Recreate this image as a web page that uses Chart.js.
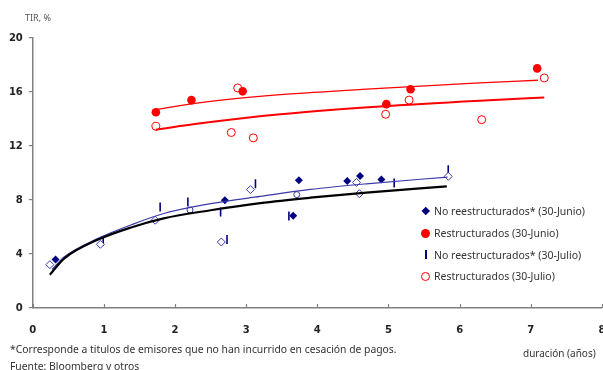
<!DOCTYPE html>
<html>
<head>
<meta charset="utf-8">
<script src="https://cdn.jsdelivr.net/npm/chart.js@4/dist/chart.umd.min.js"></script>
<style>
  body { margin: 0; background: #fff; }
  #wrap { position: relative; width: 603px; height: 370px; overflow: hidden; font-family: "Noto Sans", sans-serif; }
  #chart { position: absolute; left: 0; top: 0; }
  .txt { position: absolute; white-space: nowrap; color: #333; }
  #legend { position: absolute; left: 421px; top: 200.5px; font-size: 10.5px; color: #333; }
  #legend .item { height: 21.7px; line-height: 16px; display: flex; align-items: center; }
  #legend .mk { width: 10px; height: 16px; position: relative; margin-right: 3px; }
  #legend .mk span { position: absolute; }
</style>
</head>
<body>
<div id="wrap">
  <canvas id="chart" width="608" height="370"></canvas>
  <div class="txt" style="left:25px; top:11px; font-size:9px; color:#555;">TIR, %</div>
  <div class="txt" style="left:10px; top:341.5px; font-size:10.35px;">*Corresponde a titulos de emisores que no han incurrido en cesación de pagos.</div>
  <div class="txt" style="left:10px; top:359px; font-size:10.35px;">Fuente: Bloomberg y otros</div>
  <div class="txt" style="left:523px; top:346px; font-size:10px;">duración (años)</div>
  <div id="legend"></div>
</div>
<script>
// Axis ticks
const xTicks = [0, 1, 2, 3, 4, 5, 6, 7, 8];
const yTicks = [0, 4, 8, 12, 16, 20];

// No reestructurados* (30-Junio)
const juneNoRestrX = [0.32, 2.70, 3.66, 3.74, 4.42, 4.60, 4.90];
const juneNoRestrY = [3.60, 7.98, 6.84, 9.46, 9.41, 9.78, 9.51];

// Restructurados (30-Junio)
const juneRestrX = [1.73, 2.23, 2.95, 4.97, 5.31, 7.09];
const juneRestrY = [14.50, 15.40, 16.05, 15.10, 16.20, 17.75];

// No reestructurados* (30-Julio)
const julyNoRestrX = [0.99, 1.79, 2.18, 2.64, 2.73, 3.13, 3.60, 5.08, 5.84];
const julyNoRestrY = [4.95, 7.48, 7.85, 7.11, 5.07, 9.21, 6.81, 9.26, 10.25];

// Restructurados (30-Julio)
const julyRestrX = [1.73, 2.79, 2.88, 3.10, 4.96, 5.29, 6.31, 7.19];
const julyRestrY = [13.46, 13.00, 16.30, 12.60, 14.35, 15.40, 13.95, 17.04];

// unlabelled blue markers
const openDiamondX = [0.24, 0.95, 1.72, 2.65, 3.06, 4.55, 4.59, 5.84];
const openDiamondY = [3.21, 4.72, 6.50, 4.89, 8.77, 9.30, 8.47, 9.75];
const openDotX = [2.21, 3.71];
const openDotY = [7.26, 8.40];

// trend curves
const juneRestrTrendX = [1.73, 2.36, 3.48, 4.88, 6.28, 7.10];
const juneRestrTrendY = [14.70, 15.22, 15.80, 16.27, 16.67, 16.87];
const julyRestrTrendX = [1.73, 2.36, 3.48, 4.88, 6.28, 7.19];
const julyRestrTrendY = [13.21, 13.68, 14.35, 14.93, 15.36, 15.59];
const julyNoRestrTrendX = [0.24, 0.44, 0.91, 1.37, 1.84, 2.50, 3.20, 3.90, 4.69, 5.82];
const julyNoRestrTrendY = [2.47, 3.66, 5.05, 5.95, 6.64, 7.24, 7.77, 8.17, 8.55, 9.01];
const juneNoRestrTrendX = [0.27, 0.44, 0.91, 1.37, 1.84, 2.50, 3.20, 3.90, 4.69, 5.83];
const juneNoRestrTrendY = [2.85, 3.78, 5.14, 6.13, 7.00, 7.73, 8.27, 8.78, 9.20, 9.70];

const NAVY = '#000080';
const BLUE = '#3a3aa8';
const RED = '#ff0000';

function pts(xs, ys) {
    return xs.map((x, i) => ({ x: x, y: ys[i] }));
}

function trend(xs, ys, color, width) {
    return {
        type: 'line',
        data: pts(xs, ys),
        borderColor: color,
        borderWidth: width,
        pointRadius: 0,
        cubicInterpolationMode: 'monotone',
        fill: false,
        legend: false
    };
}

const datasets = [
    trend(julyRestrTrendX, julyRestrTrendY, RED, 2),
    trend(juneRestrTrendX, juneRestrTrendY, RED, 1.3),
    trend(julyNoRestrTrendX, julyNoRestrTrendY, '#000', 2.2),
    trend(juneNoRestrTrendX, juneNoRestrTrendY, BLUE, 1.2),
    {
        data: pts(openDiamondX, openDiamondY),
        pointStyle: 'rectRot', pointRadius: 4, pointBorderWidth: 1,
        pointBorderColor: BLUE, pointBackgroundColor: '#fff', legend: false
    },
    {
        data: pts(openDotX, openDotY),
        pointStyle: 'circle', pointRadius: 3, pointBorderWidth: 1,
        pointBorderColor: BLUE, pointBackgroundColor: '#fff', legend: false
    },
    {
        label: 'No reestructurados* (30-Junio)',
        data: pts(juneNoRestrX, juneNoRestrY),
        pointStyle: 'rectRot', pointRadius: 4, pointBorderWidth: 0,
        pointBorderColor: NAVY, pointBackgroundColor: NAVY, legend: 'diamond'
    },
    {
        label: 'Restructurados (30-Junio)',
        data: pts(juneRestrX, juneRestrY),
        pointStyle: 'circle', pointRadius: 4.3, pointBorderWidth: 0,
        pointBorderColor: RED, pointBackgroundColor: RED, legend: 'dot'
    },
    {
        label: 'No reestructurados* (30-Julio)',
        data: pts(julyNoRestrX, julyNoRestrY),
        pointStyle: 'line', rotation: 90, pointRadius: 4.5, pointBorderWidth: 1.6,
        pointBorderColor: NAVY, pointBackgroundColor: NAVY, legend: 'bar'
    },
    {
        label: 'Restructurados (30-Julio)',
        data: pts(julyRestrX, julyRestrY),
        pointStyle: 'circle', pointRadius: 4, pointBorderWidth: 1,
        pointBorderColor: RED, pointBackgroundColor: '#fff', legend: 'ring'
    }
];

// small inward tick marks on the x axis
const innerTicks = {
    id: 'innerTicks',
    afterDraw(chart) {
        const ctx = chart.ctx;
        const xs = chart.scales.x;
        ctx.save();
        ctx.strokeStyle = '#808080';
        ctx.lineWidth = 1.2;
        xTicks.forEach(v => {
            const px = Math.round(xs.getPixelForValue(v)) + 0.5;
            ctx.beginPath();
            ctx.moveTo(px, xs.top);
            ctx.lineTo(px, xs.top - 4);
            ctx.stroke();
        });
        ctx.restore();
    }
};

const tickFont = { family: '"DejaVu Sans", sans-serif', size: 10, weight: 'bold' };

const chart = new Chart(document.getElementById('chart'), {
    type: 'scatter',
    data: { datasets: datasets },
    options: {
        responsive: false,
        animation: false,
        devicePixelRatio: 1,
        layout: { padding: { top: 38, right: 0, bottom: 0, left: 0.8 } },
        plugins: { legend: { display: false }, tooltip: { enabled: false } },
        scales: {
            x: {
                type: 'linear', min: 0, max: 8,
                afterBuildTicks: s => { s.ticks = xTicks.map(v => ({ value: v })); },
                afterFit: s => { s.height = 62; s.paddingLeft = 0; s.paddingRight = 0; },
                grid: { drawOnChartArea: false, drawTicks: false },
                border: { color: '#808080', width: 1.5 },
                ticks: { font: tickFont, color: '#222', padding: 16, maxRotation: 0 }
            },
            y: {
                type: 'linear', min: 0, max: 20,
                afterBuildTicks: s => { s.ticks = yTicks.map(v => ({ value: v })); },
                afterFit: s => { s.width = 32; s.paddingTop = 0; s.paddingBottom = 0; },
                grid: { drawOnChartArea: false, drawTicks: true, tickLength: 4, color: '#808080', lineWidth: 1.2 },
                border: { color: '#808080', width: 1.5 },
                ticks: { font: tickFont, color: '#222', padding: 6 }
            }
        }
    },
    plugins: [innerTicks]
});

// html legend
const markers = {
    diamond: '<span style="left:2px;top:5px;width:5.5px;height:5.5px;background:' + NAVY + ';transform:rotate(45deg)"></span>',
    dot: '<span style="left:0;top:3.5px;width:9px;height:9px;border-radius:50%;background:' + RED + '"></span>',
    bar: '<span style="left:4px;top:3.5px;width:1.6px;height:9px;background:' + NAVY + '"></span>',
    ring: '<span style="left:0;top:3.5px;width:7px;height:7px;border-radius:50%;border:1px solid ' + RED + '"></span>'
};
const legendEl = document.getElementById('legend');
chart.data.datasets.filter(d => d.legend).forEach(d => {
    const item = document.createElement('div');
    item.className = 'item';
    item.innerHTML = '<div class="mk">' + markers[d.legend] + '</div><span>' + d.label + '</span>';
    legendEl.appendChild(item);
});
</script>
</body>
</html>
